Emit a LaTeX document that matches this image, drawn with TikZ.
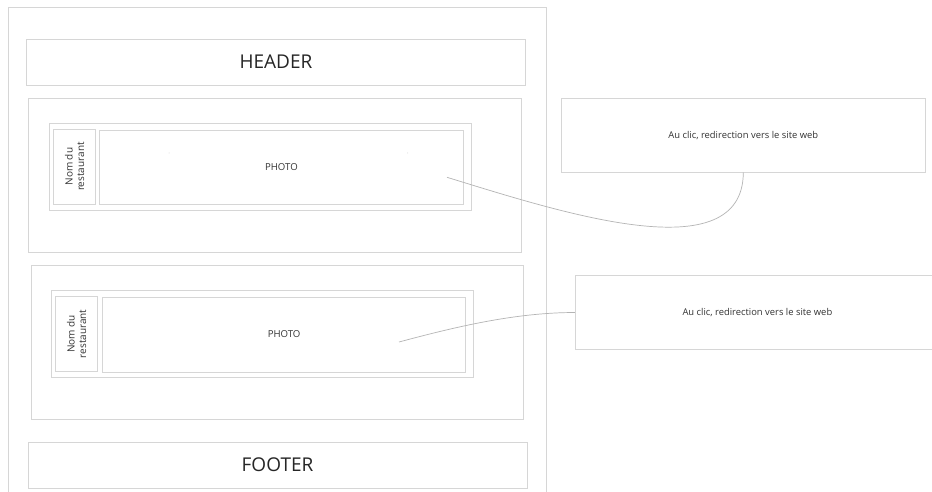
\documentclass[tikz,border=0pt]{standalone}
\usepackage{fontspec}
\setmainfont{Open Sans}
\begin{document}
\begin{tikzpicture}[x=1pt,y=-1pt,
  frame/.style={draw=boxgray,line width=0.9pt},
  box/.style={frame,rectangle,inner sep=0pt,text=txtgray},
  link/.style={draw=linkgray,line width=0.7pt}]
\definecolor{boxgray}{HTML}{D6D6D6}
\definecolor{linkgray}{HTML}{B4B4B4}
\definecolor{txtgray}{HTML}{333333}
\useasboundingbox[fill=white] (0,0) rectangle (932,492);

% page frame, open at the bottom
\draw[frame] (8,500) -- (8,7.5) -- (546,7.5) -- (546,500);

% header and footer
\node[box,minimum width=499pt,minimum height=46pt,font=\fontsize{19}{22}\selectfont,text=black!85]
  (header) at (276,62) {HEADER};
\node[box,minimum width=499pt,minimum height=46pt,font=\fontsize{19}{22}\selectfont,text=black!85]
  (footer) at (277.5,465) {FOOTER};

% first restaurant block
\node[box,minimum width=493pt,minimum height=154pt] (blockA) at (275.2,175.3) {};
\node[box,minimum width=422.5pt,minimum height=87pt] (groupA) at (260.2,167.2) {};
\node[box,minimum width=42.5pt,minimum height=74.7pt] (nameA) at (74.5,166.6) {};
\node[rotate=90,align=center,text=txtgray,font=\fontsize{10}{11.5}\selectfont,inner sep=0pt]
  (nameAtxt) at (nameA.center) {Nom du\\restaurant};
\node[box,minimum width=363.6pt,minimum height=74.7pt,font=\fontsize{9.6}{11}\selectfont]
  (photoA) at (281.4,167.5) {PHOTO};
\fill[boxgray] (169,153) circle (0.5pt) (407.5,153) circle (0.5pt);

% second restaurant block
\node[box,minimum width=492.6pt,minimum height=154.3pt] (blockB) at (277.3,342.2) {};
\node[box,minimum width=422.2pt,minimum height=87.4pt] (groupB) at (262.5,334) {};
\node[box,minimum width=42.1pt,minimum height=75pt] (nameB) at (76.5,333.8) {};
\node[rotate=90,align=center,text=txtgray,font=\fontsize{10}{11.5}\selectfont,inner sep=0pt]
  (nameBtxt) at (nameB.center) {Nom du\\restaurant};
\node[box,minimum width=363.2pt,minimum height=75pt,font=\fontsize{9.6}{11}\selectfont]
  (photoB) at (284.1,334.5) {PHOTO};

% notes on the right
\node[box,minimum width=364pt,minimum height=73.7pt,font=\fontsize{9.4}{11}\selectfont]
  (noteA) at (743.3,135.2) {Au clic, redirection vers le site web};
\node[box,minimum width=364pt,minimum height=73.6pt,font=\fontsize{9.4}{11}\selectfont]
  (noteB) at (757.4,312.5) {Au clic, redirection vers le site web};

% connectors
\coordinate (startA) at (447,177.3);
\coordinate (startB) at (399,342);
\draw[link] (startA) .. controls (560,212) and (743,272) .. (noteA.south);
\draw[link] (startB) .. controls (455,327) and (515,312.5) .. (noteB.west);
\end{tikzpicture}
\end{document}
